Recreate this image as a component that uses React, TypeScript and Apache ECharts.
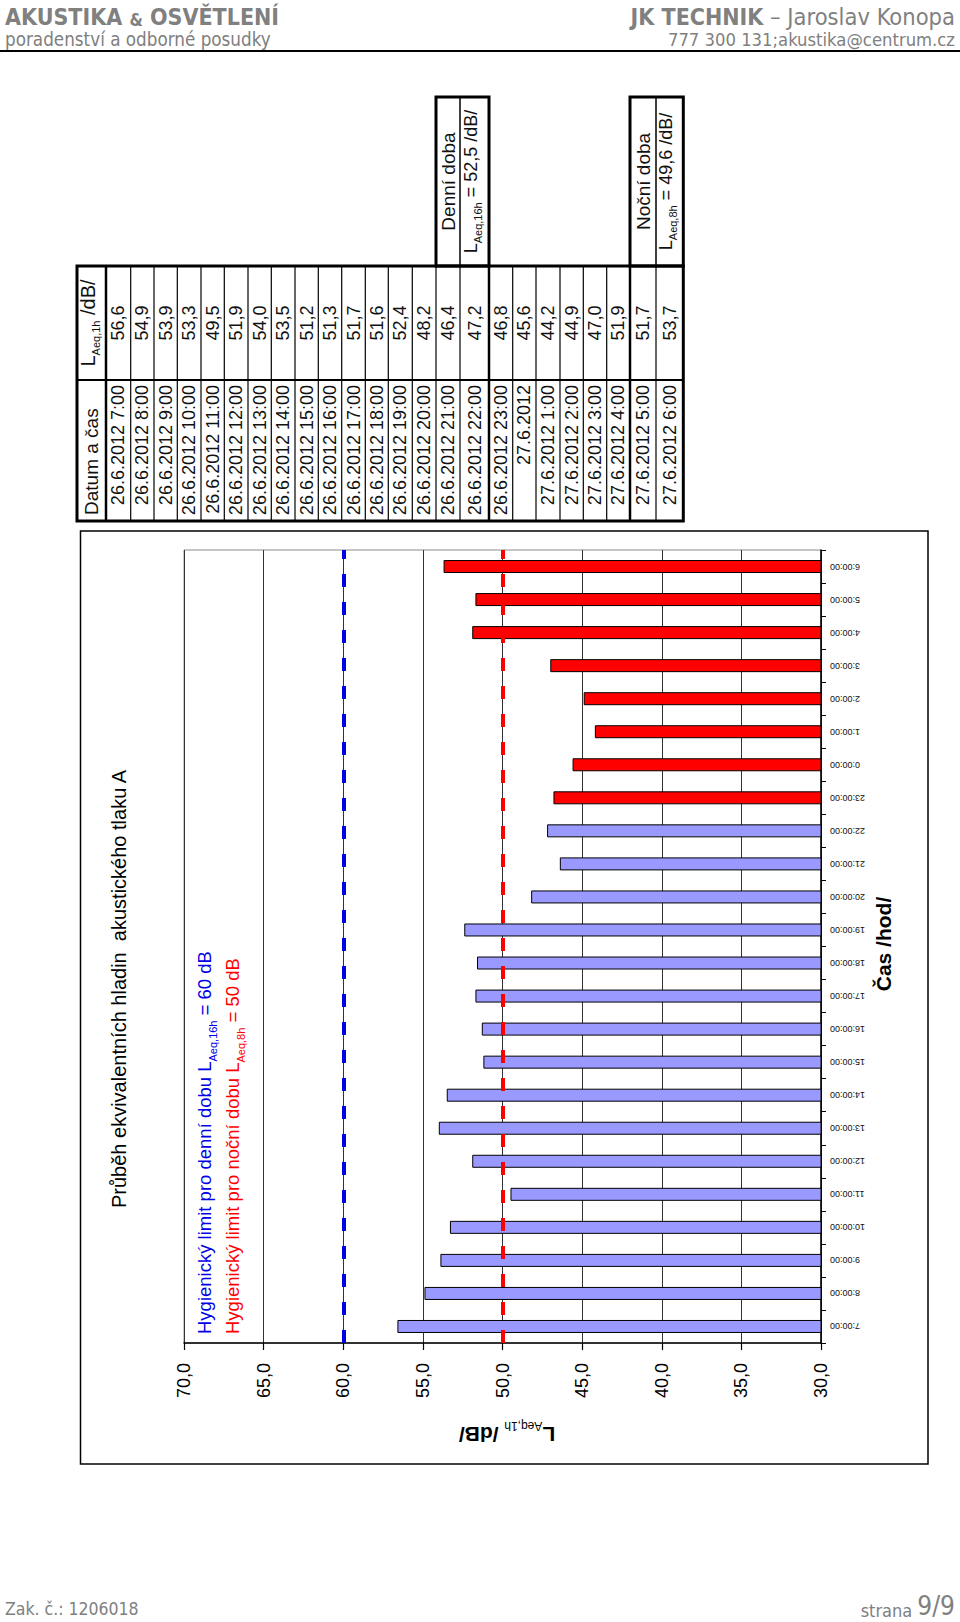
import React, { useEffect, useRef } from "react";
import * as echarts from "echarts";

// ---------- data ----------
const hourLabels = [
  "7:00:00", "8:00:00", "9:00:00", "10:00:00", "11:00:00", "12:00:00",
  "13:00:00", "14:00:00", "15:00:00", "16:00:00", "17:00:00", "18:00:00",
  "19:00:00", "20:00:00", "21:00:00", "22:00:00", "23:00:00", "0:00:00",
  "1:00:00", "2:00:00", "3:00:00", "4:00:00", "5:00:00", "6:00:00",
];
const tableDates = [
  "26.6.2012 7:00", "26.6.2012 8:00", "26.6.2012 9:00", "26.6.2012 10:00",
  "26.6.2012 11:00", "26.6.2012 12:00", "26.6.2012 13:00", "26.6.2012 14:00",
  "26.6.2012 15:00", "26.6.2012 16:00", "26.6.2012 17:00", "26.6.2012 18:00",
  "26.6.2012 19:00", "26.6.2012 20:00", "26.6.2012 21:00", "26.6.2012 22:00",
  "26.6.2012 23:00", "27.6.2012", "27.6.2012 1:00", "27.6.2012 2:00",
  "27.6.2012 3:00", "27.6.2012 4:00", "27.6.2012 5:00", "27.6.2012 6:00",
];
const levels = [
  56.6, 54.9, 53.9, 53.3, 49.5, 51.9, 54.0, 53.5, 51.2, 51.3, 51.7, 51.6,
  52.4, 48.2, 46.4, 47.2, 46.8, 45.6, 44.2, 44.9, 47.0, 51.9, 51.7, 53.7,
];
const dayRowCount = 16;
const dayLimit = 60;
const nightLimit = 50;
const dayAverage = 52.5;
const nightAverage = 49.6;
const axisMin = 30;
const axisMax = 70;
const axisStep = 5;

// ---------- styling / layout ----------
const F = "'Liberation Sans', Arial, Helvetica, sans-serif";
const HF = "'Liberation Sans Narrow', 'DejaVu Sans Condensed', 'Open Sans', sans-serif";
const GRAY = "#808080";
const fmt = (v: number) => v.toFixed(1).replace(".", ",");

// table row edges (screen x), table rotated 90deg CCW
const rowEdgesScreen = [
  106, 130.7, 154, 177.3, 201, 224.3, 248, 271.3, 295, 318.3, 341.7, 365.3,
  388.3, 412.3, 436, 460, 489, 512.7, 536, 560, 583.3, 606.7, 630, 656, 683.3,
];

function buildTable() {
  const ox = 77;
  const oy = 521;
  const V = (sx: number) => sx - ox;
  const edges = rowEdgesScreen.map(V);
  const tableH = 255; // u extent
  const splitU = 141;
  const boxTop = 424;
  const end = edges[edges.length - 1];
  const ch: any[] = [];
  const line = (x1: number, y1: number, x2: number, y2: number, w: number) =>
    ch.push({ type: "line", shape: { x1, y1, x2, y2 }, style: { stroke: "#000", lineWidth: w } });

  for (let i = 1; i < edges.length - 1; i++) {
    const thick = i === dayRowCount || i === 22;
    line(0, edges[i], tableH, edges[i], thick ? 2.5 : 1.2);
  }
  line(0, edges[0], tableH, edges[0], 2.5);
  line(splitU, 0, splitU, end, 2);
  ch.push({ type: "rect", shape: { x: 0, y: 0, width: tableH, height: end }, style: { fill: "none", stroke: "#000", lineWidth: 3 } });

  const box = (i0: number, i1: number) => {
    ch.push({ type: "rect", shape: { x: tableH, y: edges[i0], width: boxTop - tableH, height: edges[i1 + 1] - edges[i0] }, style: { fill: "none", stroke: "#000", lineWidth: 3 } });
    line(tableH, edges[i0 + 1], boxTop, edges[i0 + 1], 1.5);
  };
  box(14, 15);
  box(22, 23);

  const mid = (i: number) => (edges[i] + edges[i + 1]) / 2;
  const sub = { font: `11px ${F}`, fill: "#111", verticalAlign: "bottom", lineHeight: 12 };
  const main = (fs: number) => ({ font: `${fs}px ${F}`, fill: "#111", verticalAlign: "bottom", lineHeight: fs, padding: [0, 0, 4, 0] });

  ch.push({ type: "text", x: 6, y: 14.5, style: { text: "Datum a čas", font: `19px ${F}`, fill: "#111", align: "left", verticalAlign: "middle" } });
  ch.push({ type: "text", x: (splitU + tableH) / 2, y: 14.5, style: { text: "{m|L}{s|Aeq,1h}{m| /dB/}", rich: { m: main(20), s: sub }, align: "center", verticalAlign: "middle" } });

  tableDates.forEach((d, i) => {
    ch.push({ type: "text", x: splitU - 5, y: mid(i), style: { text: d, font: `18px ${F}`, fill: "#111", align: "right", verticalAlign: "middle" } });
    ch.push({ type: "text", x: (splitU + tableH) / 2, y: mid(i), style: { text: fmt(levels[i]), font: `18px ${F}`, fill: "#111", align: "center", verticalAlign: "middle" } });
  });

  const cu = (tableH + boxTop) / 2;
  ch.push({ type: "text", x: cu, y: (edges[14] + edges[15]) / 2, style: { text: "Denní doba", font: `19px ${F}`, fill: "#111", align: "center", verticalAlign: "middle" } });
  ch.push({ type: "text", x: cu, y: (edges[15] + edges[16]) / 2, style: { text: `{m|L}{s|Aeq,16h}{m| = ${fmt(dayAverage)} /dB/}`, rich: { m: main(18), s: sub }, align: "center", verticalAlign: "middle" } });
  ch.push({ type: "text", x: cu, y: (edges[22] + edges[23]) / 2, style: { text: "Noční doba", font: `19px ${F}`, fill: "#111", align: "center", verticalAlign: "middle" } });
  ch.push({ type: "text", x: cu, y: (edges[23] + edges[24]) / 2, style: { text: `{m|L}{s|Aeq,8h}{m| = ${fmt(nightAverage)} /dB/}`, rich: { m: main(18), s: sub }, align: "center", verticalAlign: "middle" } });

  return { type: "group", x: ox, y: oy, rotation: Math.PI / 2, children: ch };
}

function buildOption() {
  const subR = (fill: string, fs: number) => ({ font: `${fs}px ${F}`, fill, verticalAlign: "bottom", lineHeight: fs });
  const mainR = (fill: string, fs: number, bold = false) => ({ font: `${bold ? "bold " : ""}${fs}px ${F}`, fill, verticalAlign: "bottom", lineHeight: fs, padding: [0, 0, 4, 0] });

  const graphic: any[] = [
    // header
    { type: "text", x: 5, y: 17, style: { text: "{b|AKUSTIKA }{s|&}{b| OSVĚTLENÍ}", rich: { b: { font: `bold 23px ${HF}`, fill: GRAY, verticalAlign: "bottom", lineHeight: 23 }, s: { font: `bold 17px ${HF}`, fill: GRAY, verticalAlign: "bottom", lineHeight: 20 } }, align: "left", verticalAlign: "middle" } },
    { type: "text", x: 5, y: 39, style: { text: "poradenství a odborné posudky", font: `18.7px ${HF}`, fill: GRAY, align: "left", verticalAlign: "middle" } },
    { type: "text", x: 955, y: 17, style: { text: "{b|JK TECHNIK}{r| – Jaroslav Konopa}", rich: { b: { font: `bold 23px ${HF}`, fill: GRAY, verticalAlign: "bottom", lineHeight: 23 }, r: { font: `23.5px ${HF}`, fill: GRAY, verticalAlign: "bottom", lineHeight: 23 } }, align: "right", verticalAlign: "middle" } },
    { type: "text", x: 955, y: 39, style: { text: "777 300 131;akustika@centrum.cz", font: `18.3px ${HF}`, fill: GRAY, align: "right", verticalAlign: "middle" } },
    { type: "line", shape: { x1: 0, y1: 51, x2: 960, y2: 51 }, style: { stroke: "#000", lineWidth: 2 } },
    // footer
    { type: "text", x: 5, y: 1609, style: { text: "Zak. č.: 1206018", font: `17.5px ${HF}`, fill: GRAY, align: "left", verticalAlign: "middle" } },
    { type: "text", x: 955, y: 1606, style: { text: "{a|strana }{b|9/9}", rich: { a: { font: `18px ${HF}`, fill: GRAY, verticalAlign: "bottom", lineHeight: 20 }, b: { font: `26px ${HF}`, fill: GRAY, verticalAlign: "bottom", lineHeight: 26 } }, align: "right", verticalAlign: "middle" } },
    // table
    buildTable(),
    // chart frame
    { type: "rect", shape: { x: 80.5, y: 531, width: 847.5, height: 933 }, style: { fill: "none", stroke: "#000", lineWidth: 1.5 }, z: -1 },
    // title
    { type: "text", x: 119, y: 1208, rotation: Math.PI / 2, style: { text: "Průběh ekvivalentních hladin  akustického tlaku A", font: `20px ${F}`, fill: "#000", align: "left", verticalAlign: "middle" } },
    // legend
    { type: "text", x: 209, y: 1334, rotation: Math.PI / 2, style: { text: `{m|Hygienický limit pro denní dobu L}{s|Aeq,16h}{m| = ${dayLimit} dB}`, rich: { m: mainR("#0000e6", 18.5), s: subR("#0000e6", 11) }, align: "left", verticalAlign: "middle" } },
    { type: "text", x: 237, y: 1334, rotation: Math.PI / 2, style: { text: `{m|Hygienický limit pro noční dobu L}{s|Aeq,8h}{m| = ${nightLimit} dB}`, rich: { m: mainR("#ff0000", 18.5), s: subR("#ff0000", 11) }, align: "left", verticalAlign: "middle" } },
    // axis names
    { type: "text", x: 507, y: 1430, rotation: Math.PI, style: { text: "{m|L}{s|Aeq,1h}{m| /dB/}", rich: { m: mainR("#000", 21, true), s: subR("#000", 12) }, align: "center", verticalAlign: "middle" } },
    { type: "text", x: 883, y: 944, rotation: Math.PI / 2, style: { text: "Čas /hod/", font: `bold 21px ${F}`, fill: "#000", align: "center", verticalAlign: "middle" } },
  ];

  return {
    animation: false,
    backgroundColor: "#fff",
    grid: { left: 184, right: 139, top: 550, bottom: 279, show: true, borderColor: "#8c8c8c", borderWidth: 1, containLabel: false },
    xAxis: {
      type: "value",
      min: axisMin,
      max: axisMax,
      interval: axisStep,
      inverse: true,
      position: "bottom",
      axisLine: { show: true, onZero: false, lineStyle: { color: "#000", width: 1.5 } },
      axisTick: { show: true, length: 7, lineStyle: { color: "#000", width: 1.2 } },
      axisLabel: { rotate: 90, margin: 20, fontSize: 18, color: "#000", fontFamily: F, formatter: (v: number) => fmt(v) },
      splitLine: { show: true, lineStyle: { color: "#333", width: 1 } },
    },
    yAxis: {
      type: "category",
      data: hourLabels,
      position: "right",
      axisLine: { show: true, onZero: false, lineStyle: { color: "#000", width: 1.5 } },
      axisTick: { show: true, length: 5, lineStyle: { color: "#000" } },
      axisLabel: { rotate: 180, margin: 9, fontSize: 9, color: "#111", fontFamily: F },
      splitLine: { show: false },
    },
    series: [
      {
        type: "bar",
        clip: true,
        barWidth: 13,
        data: levels.map((v, i) => ({ value: v, itemStyle: { color: i < dayRowCount ? "#9999ff" : "#ff0000" } })),
        itemStyle: { borderColor: "#000", borderWidth: 1 },
        markLine: {
          silent: true,
          symbol: ["none", "none"],
          label: { show: false },
          data: [
            { xAxis: dayLimit, lineStyle: { color: "#0000e0", width: 4, type: [13, 15] } },
            { xAxis: nightLimit, lineStyle: { color: "#ff0000", width: 4, type: [13, 15] } },
          ],
        },
      },
    ],
    graphic,
  };
}

export default function App() {
  const ref = useRef<HTMLDivElement>(null);
  useEffect(() => {
    if (!ref.current) return;
    const chart = echarts.init(ref.current, undefined, { renderer: "svg" });
    chart.setOption(buildOption() as any);
    return () => chart.dispose();
  }, []);
  return <div ref={ref} style={{ position: "absolute", left: 0, top: 0, width: 960, height: 1622 }} />;
}
